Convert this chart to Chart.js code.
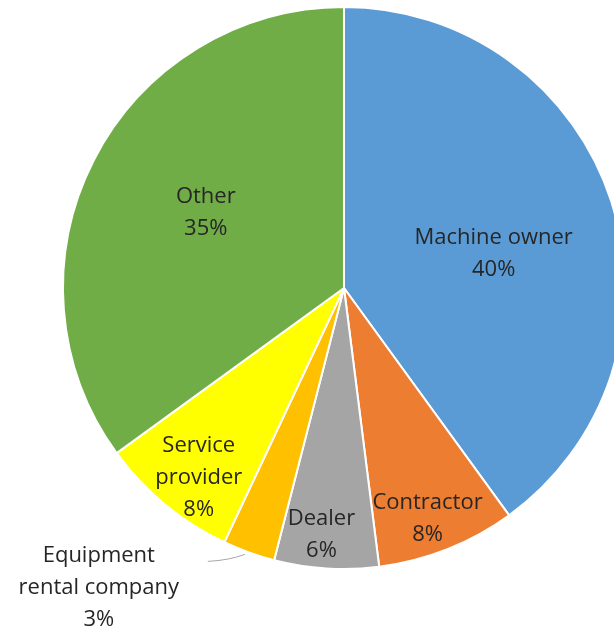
<!DOCTYPE html>
<html>
<head>
<meta charset="utf-8">
<script src="https://cdn.jsdelivr.net/npm/chart.js@4.4.1/dist/chart.umd.min.js"></script>
<style>
  html, body { margin: 0; padding: 0; background: #fff; overflow: hidden; }
  #wrap { position: absolute; left: 0; top: 0; }
</style>
</head>
<body>
<div id="wrap"><canvas id="pieChart" width="688" height="632"></canvas></div>
<script>
// chart data
const categories = ["Machine owner", "Contractor", "Dealer", "Equipment rental company", "Service provider", "Other"];
const shares = [40, 8, 6, 3, 8, 35];
const sliceColors = ["#5B9BD5", "#ED7D31", "#A5A5A5", "#FFC000", "#FFFF00", "#70AD47"];

// label text lines (as Excel wrapped them)
const labelLines = [
  ["Machine owner"],
  ["Contractor"],
  ["Dealer"],
  ["Equipment", "rental company"],
  ["Service", "provider"],
  ["Other"]
];
// where each label sits: fraction of radius along the slice bisector + small nudge
// outside: true means put it outside with a leader line
const labelPlace = [
  { f: 0.56, dx: 0, dy: 14 },
  { f: 0.875, dx: -7, dy: 2 },
  { f: 0.88, dx: -7, dy: 0 },
  { f: 1.0, dx: -150, dy: 35, outside: true },
  { f: 0.85, dx: 7, dy: 6 },
  { f: 0.56, dx: 2, dy: -4 }
];

const ctx = document.getElementById('pieChart').getContext('2d');

const pieLabels = {
  id: 'pieLabels',
  afterDatasetsDraw(chart) {
    const c = chart.ctx;
    const meta = chart.getDatasetMeta(0);
    c.save();
    c.font = '22px "Open Sans"';
    c.fillStyle = '#262626';
    c.textAlign = 'center';
    c.textBaseline = 'middle';
    const lineH = 32;
    meta.data.forEach((arc, i) => {
      const p = arc.getProps(['x', 'y', 'startAngle', 'endAngle', 'outerRadius'], true);
      const mid = (p.startAngle + p.endAngle) / 2;
      const place = labelPlace[i];
      const ex = p.x + Math.cos(mid) * p.outerRadius * place.f;
      const ey = p.y + Math.sin(mid) * p.outerRadius * place.f;
      const lx = ex + place.dx;
      const ly = ey + place.dy;
      const lines = labelLines[i].concat([shares[i] + '%']);
      const top = ly - (lines.length - 1) * lineH / 2;
      lines.forEach((t, k) => c.fillText(t, lx, top + k * lineH));

      if (place.outside) {
        // leader line from label to slice edge
        c.strokeStyle = '#A6A6A6';
        c.lineWidth = 1;
        c.beginPath();
        c.moveTo(lx + 109, top + 6);
        c.quadraticCurveTo(lx + 130, top + 5, ex - 4, ey + 2);
        c.stroke();
      }
    });
    c.restore();
  }
};

const myPie = new Chart(ctx, {
  type: 'pie',
  data: {
    labels: categories,
    datasets: [{
      data: shares,
      backgroundColor: sliceColors,
      borderColor: '#ffffff',
      borderWidth: 2
    }]
  },
  options: {
    responsive: false,
    animation: false,
    layout: {
      padding: { top: 6, bottom: 62, left: 62, right: 62 }
    },
    plugins: {
      legend: { display: false },
      tooltip: { enabled: false }
    }
  },
  plugins: [pieLabels]
});
</script>
</body>
</html>
